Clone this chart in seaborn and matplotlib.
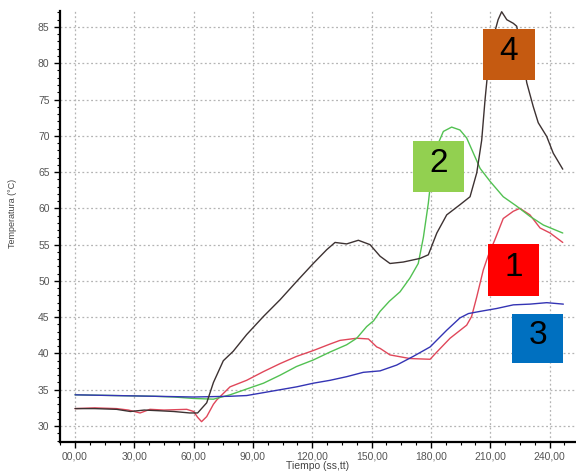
import numpy as np
import pandas as pd
import seaborn as sns
import matplotlib.pyplot as plt
from matplotlib.patches import Rectangle
from matplotlib.ticker import MultipleLocator, FuncFormatter

# Sonda 1 (rojo)
t_1 = [0, 10, 21, 27, 32.9, 37.9, 45, 56.5, 60, 62, 64, 66.6, 70, 71.7, 78.4, 86.8, 95.3,
       103.7, 112.1, 120.5, 129, 134, 142.5, 148.4, 152.6, 154.3, 159.3, 169.4, 179.6, 183,
       189.7, 198.1, 200.6, 203.2, 206.5, 209, 212.4, 216.6, 221.7, 225, 230.1, 235.2, 240.3, 246.7]
temp_1 = [32.4, 32.5, 32.4, 32.2, 31.8, 32.3, 32.2, 32.3, 32.0, 31.2, 30.6, 31.3, 33.0, 33.6, 35.4,
          36.3, 37.5, 38.6, 39.6, 40.4, 41.3, 41.8, 42.1, 42.0, 40.9, 40.7, 39.8, 39.3, 39.2, 40.2,
          42.1, 43.9, 45.1, 47.8, 51.5, 53.5, 55.7, 58.6, 59.6, 60.0, 59.1, 57.3, 56.6, 55.3]

# Sonda 2 (verde)
t_2 = [0, 20, 40, 50, 60, 70, 78.4, 86.8, 95.3, 103.7, 112, 120.5, 129, 137.4, 142.5, 147.5, 151,
       154.3, 159, 164.4, 169.4, 173.6, 176.2, 178.7, 180.4, 183, 186.3, 190.5, 194.7, 198.1,
       201.5, 204.9, 210, 216.6, 223.4, 230.1, 236.9, 246.7]
temp_2 = [34.3, 34.2, 34.1, 34.0, 33.8, 33.7, 34.3, 35.1, 35.9, 37.0, 38.2, 39.1, 40.2, 41.2, 42.1,
          43.7, 44.5, 45.8, 47.2, 48.5, 50.4, 52.4, 56.0, 60.7, 64.9, 68.5, 70.6, 71.2, 70.8, 69.7,
          67.6, 65.5, 63.7, 61.6, 60.3, 58.9, 57.7, 56.6]

# Sonda 3 (azul)
t_3 = [0, 20, 40, 60, 78.4, 86.8, 95.3, 103.7, 112.1, 120.5, 129, 137.4, 145.8, 154.3, 162.7,
       171.1, 179.6, 188, 194.7, 199, 204.9, 213.3, 221.7, 230.1, 238.6, 247]
temp_3 = [34.3, 34.2, 34.1, 34.0, 34.1, 34.2, 34.6, 35.0, 35.4, 35.9, 36.3, 36.8, 37.4, 37.6, 38.4,
          39.6, 40.9, 43.2, 44.9, 45.5, 45.8, 46.2, 46.7, 46.8, 47.0, 46.8]

# Sonda 4 (negro)
t_4 = [0, 10, 21, 28, 35, 43, 50, 58, 62, 66.6, 70, 75, 80, 86.8, 95.3, 103.7, 112, 120.5, 127.3,
       131.5, 137.4, 143.3, 149.2, 154.3, 159.3, 166, 174.5, 178.7, 183, 188, 194.7, 199.8, 203.2,
       205.7, 207.4, 209, 211.5, 214, 215.8, 218.4, 221.7, 223.4, 226, 228.5, 231.8, 234.3, 238.6,
       241.9, 246.7]
temp_4 = [32.4, 32.4, 32.3, 32.0, 32.2, 32.1, 32.0, 31.8, 31.8, 33.2, 36.0, 39.0, 40.3, 42.6, 45.1,
          47.4, 49.9, 52.4, 54.3, 55.3, 55.1, 55.6, 55.0, 53.4, 52.4, 52.6, 53.1, 53.6, 56.6, 59.1,
          60.5, 61.6, 64.9, 69.4, 75.0, 79.5, 83.5, 86.0, 87.1, 86.0, 85.5, 85.1, 81.5, 77.3, 74.0,
          71.8, 69.9, 67.6, 65.4]

sondas = ["1", "2", "3", "4"]
colores_linea = {"1": "#e0475a", "2": "#52c152", "3": "#3434b4", "4": "#3d3232"}

# Etiquetas de cada sonda
etiquetas = ["4", "2", "1", "3"]
colores_caja = ["#c55a11", "#92d050", "#ff0000", "#0070c0"]

df = pd.concat([
    pd.DataFrame({"t": t_1, "temp": temp_1, "sonda": "1"}),
    pd.DataFrame({"t": t_2, "temp": temp_2, "sonda": "2"}),
    pd.DataFrame({"t": t_3, "temp": temp_3, "sonda": "3"}),
    pd.DataFrame({"t": t_4, "temp": temp_4, "sonda": "4"}),
], ignore_index=True)

sns.set_style("white")
plt.rcParams["font.family"] = ["Liberation Sans", "DejaVu Sans"]

fig = plt.figure(figsize=(5.76, 4.72), dpi=100)
ax = fig.add_axes([0.1042, 0.0636, 0.8958, 0.9131])

sns.lineplot(data=df, x="t", y="temp", hue="sonda", hue_order=sondas, palette=colores_linea,
             estimator=None, sort=False, linewidth=1.0, legend=False, ax=ax)

ax.set_xlim(-7.6, 253.4)
ax.set_ylim(27.8, 87.2)

ax.xaxis.set_major_locator(MultipleLocator(30))
ax.xaxis.set_minor_locator(MultipleLocator(7.5))
ax.yaxis.set_major_locator(MultipleLocator(5))
ax.yaxis.set_minor_locator(MultipleLocator(1))
ax.xaxis.set_major_formatter(FuncFormatter(lambda v, p: f"{v:05.2f}".replace(".", ",")))
ax.yaxis.set_major_formatter(FuncFormatter(lambda v, p: f"{v:.0f}"))

ax.grid(True, which="major", color="#b4b4b4", linestyle=(0, (1.5, 2)), linewidth=0.9)
ax.tick_params(axis="both", which="major", direction="out", length=4, width=1,
               color="black", labelsize=7.5, labelcolor="#555555", bottom=True, left=True)
ax.tick_params(axis="both", which="minor", direction="out", length=2, width=0.8,
               color="black", bottom=True, left=True)
ax.tick_params(axis="x", pad=2.5)

for s in ["top", "right"]:
    ax.spines[s].set_visible(False)
for s in ["left", "bottom"]:
    ax.spines[s].set_color("black")
    ax.spines[s].set_linewidth(1.6)

ax.set_xlabel("Tiempo (ss,tt)", fontsize=7.5, color="#444444", labelpad=0)
ax.set_ylabel("Temperatura (°C)", fontsize=6.5, color="#444444")
ax.yaxis.set_label_coords(-0.083, 0.53)

# Cajas con el numero de sonda
centros = [(219.5, 81.2), (183.8, 65.8), (221.8, 51.5), (234.1, 42.1)]
tamanos = [(26.3, 7.1), (26.0, 7.0), (26.0, 7.1), (25.8, 6.7)]
for lab, col, (cx, cy), (w, h) in zip(etiquetas, colores_caja, centros, tamanos):
    ax.add_patch(Rectangle((cx - w / 2, cy - h / 2), w, h, facecolor=col,
                           edgecolor="none", zorder=5))
    ax.text(cx, cy + 0.4, lab, fontsize=24, color="black", ha="center", va="center", zorder=6)

plt.savefig("out.png", dpi=100)
plt.close()
